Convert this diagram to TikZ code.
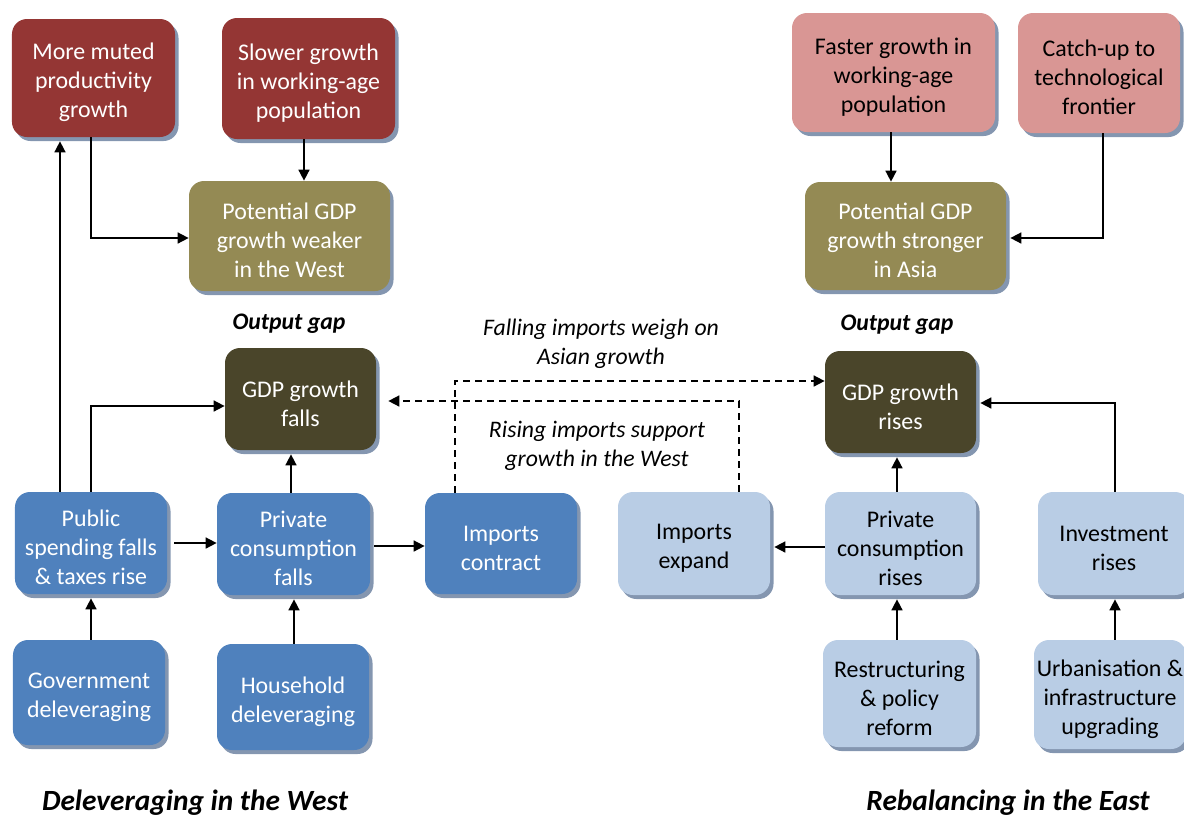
\documentclass[tikz,border=0pt]{standalone}
\usepackage{fontspec}
\setmainfont{Carlito}
\usetikzlibrary{arrows.meta,shadows,calc}
\definecolor{dred}{HTML}{943634}
\definecolor{pinkc}{HTML}{D99694}
\definecolor{olivec}{HTML}{948A54}
\definecolor{dbrown}{HTML}{4A452A}
\definecolor{blu}{HTML}{4F81BD}
\definecolor{lblu}{HTML}{B9CDE5}
\definecolor{shad}{HTML}{8496B0}
\newcommand\bx[7]{%
 \pgfmathsetmacro\bw{(#4-#2)*0.02}%
 \pgfmathsetmacro\bh{(#5-#3)*0.02}%
 \node[box,#6,minimum width=\bw cm,minimum height=\bh cm] (#1) at ({(#2+#4)/2},{(#3+#5)/2}) {\rule{0pt}{14.6pt}#7};}
\begin{document}
\begin{tikzpicture}[x=0.02cm,y=-0.02cm,
 box/.style={rounded corners=0.3cm, inner sep=0pt, align=center,
   font=\fontsize{13.6}{16.5}\selectfont,
   drop shadow={shadow xshift=0.07cm,shadow yshift=-0.08cm,fill=shad,opacity=1}},
 dr/.style={fill=dred,text=white},
 pk/.style={fill=pinkc,text=black},
 ol/.style={fill=olivec,text=white},
 db/.style={fill=dbrown,text=white},
 bl/.style={fill=blu,text=white},
 lb/.style={fill=lblu,text=black},
 arr/.style={draw,line width=0.9pt,-{Triangle[length=0.22cm,width=0.22cm]}},
 dsh/.style={dash pattern=on 0.14cm off 0.1cm},
 lbl/.style={align=center,font=\fontsize{13.5}{16.5}\selectfont\itshape},
 ttl/.style={align=center,font=\fontsize{16.7}{19}\selectfont\bfseries\itshape}]
\useasboundingbox (0,0) rectangle (1184,816);
% boxes
\bx{muted}{12}{19}{175}{137}{dr}{More muted\\productivity\\growth}
\bx{slower}{222}{18}{395}{139}{dr}{Slower growth\\in working-age\\population}
\bx{potW}{189}{181}{390}{291}{ol}{Potential GDP\\growth weaker\\in the West}
\bx{faster}{792}{13}{995}{132}{pk}{Faster growth in\\working-age\\population}
\bx{catch}{1018}{13}{1180}{133}{pk}{Catch-up to\\technological\\frontier}
\bx{potA}{805}{182}{1006}{290}{ol}{Potential GDP\\growth stronger\\in Asia}
\bx{gdpF}{225}{348}{376}{450}{db}{GDP growth\\falls}
\bx{gdpR}{825}{351}{976}{453}{db}{GDP growth\\rises}
\bx{pub}{15}{492}{167}{594}{bl}{Public\\spending falls\\\& taxes rise}
\bx{privF}{217}{493}{370}{595}{bl}{Private\\consumption\\falls}
\bx{impC}{425}{493}{577}{594}{bl}{Imports\\contract}
\bx{impE}{618}{492}{770}{595}{lb}{Imports\\expand}
\bx{privR}{825}{492}{976}{595}{lb}{Private\\consumption\\rises}
\bx{inv}{1038}{492}{1190}{595}{lb}{Investment\\rises}
\bx{gov}{13}{640}{165}{745}{bl}{Government\\deleveraging}
\bx{house}{217}{644}{369}{750}{bl}{Household\\deleveraging}
\bx{restr}{823}{640}{976}{747}{lb}{Restructuring\\\& policy\\reform}
\bx{urban}{1034}{640}{1186}{749}{lb}{Urbanisation \&\\infrastructure\\upgrading}
% labels
\node[lbl,font=\fontsize{13.5}{16.5}\selectfont\bfseries\itshape] (og1) at (289,324) {Output gap};
\node[lbl,font=\fontsize{13.5}{16.5}\selectfont\bfseries\itshape] (og2) at (897,325) {Output gap};
\node[lbl] (fall) at (601,343.5) {Falling imports weigh on\\Asian growth};
\node[lbl] (rise) at (597,446) {Rising imports support\\growth in the West};
\node[ttl] (tW) at (195,803) {Deleveraging in the West};
\node[ttl] (tE) at (1008,803) {Rebalancing in the East};
% guide coordinates
\coordinate (v60) at (60,0);
\coordinate (v91) at (91,0);
\coordinate (v291) at (291,0);
\coordinate (v294) at (294,0);
\coordinate (v304) at (304,0);
\coordinate (v455) at (455,0);
\coordinate (v739) at (739,0);
\coordinate (v891) at (891,0);
\coordinate (v897) at (897,0);
\coordinate (v1103) at (1103,0);
\coordinate (v1115) at (1115,0);
\coordinate (h238) at (0,238);
\coordinate (h381) at (0,381);
\coordinate (h401) at (0,401);
\coordinate (h403) at (0,403);
\coordinate (h406) at (0,406);
\coordinate (h543) at (0,543);
\coordinate (h546) at (0,546);
\coordinate (h547) at (0,547);
% connectors
\draw[arr] (v60 |- pub.north) -- ([yshift=-0.08cm]v60 |- muted.south);
\draw[arr] (v91 |- muted.south) |- (potW.west |- h238);
\draw[arr] (v304 |- slower.south) -- (v304 |- potW.north);
\draw[arr] (v891 |- faster.south) -- (v891 |- potA.north);
\draw[arr] (v1103 |- catch.south) |- ([xshift=0.08cm]potA.east |- h238);
\draw[arr] (v91 |- pub.north) |- (gdpF.west |- h406);
\draw[arr] (v291 |- privF.north) -- ([yshift=-0.08cm]v291 |- gdpF.south);
\draw[arr] ([xshift=0.14cm]pub.east |- h543) -- (privF.west |- h543);
\draw[arr] ([xshift=0.08cm]privF.east |- h546) -- (impC.west |- h546);
\draw[arr] (v91 |- gov.north) -- ([yshift=-0.08cm]v91 |- pub.south);
\draw[arr] (v294 |- house.north) -- ([yshift=-0.08cm]v294 |- privF.south);
\draw[arr,dsh] (v455 |- impC.north) |- (gdpR.west |- h381);
\draw[arr,dsh] (v739 |- impE.north) |- ([xshift=0.24cm]gdpF.east |- h401);
\draw[arr] (privR.west |- h547) -- ([xshift=0.08cm]impE.east |- h547);
\draw[arr] (v897 |- privR.north) -- ([yshift=-0.08cm]v897 |- gdpR.south);
\draw[arr] (v1115 |- inv.north) |- ([xshift=0.08cm]gdpR.east |- h403);
\draw[arr] (v897 |- restr.north) -- ([yshift=-0.08cm]v897 |- privR.south);
\draw[arr] (v1115 |- urban.north) -- ([yshift=-0.08cm]v1115 |- inv.south);
\end{tikzpicture}
\end{document}
